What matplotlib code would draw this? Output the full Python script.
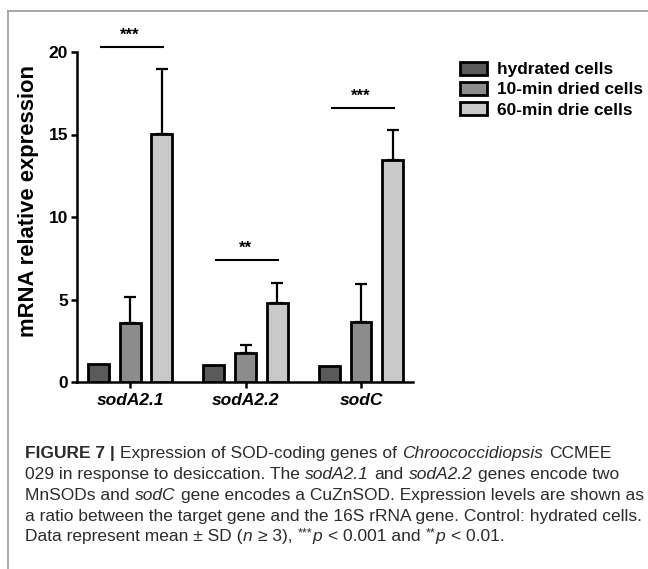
import matplotlib
matplotlib.use("Agg")
import matplotlib.pyplot as plt
from matplotlib import font_manager as fm
from matplotlib.patches import Patch
from matplotlib.lines import Line2D
import numpy as np

# ---------------- data ----------------
genes = ["sodA2.1", "sodA2.2", "sodC"]
series_labels = ["hydrated cells", "10-min dried cells", "60-min drie cells"]
hydrated = [1.07, 1.05, 1.0]
dried10 = [3.6, 1.75, 3.62]
dried60 = [15.05, 4.78, 13.48]
err_hydrated = [0.0, 0.0, 0.0]
err_dried10 = [1.53, 0.5, 2.33]
err_dried60 = [3.93, 1.2, 1.8]
sig_labels = ["***", "**", "***"]
sig_heights = [20.3, 7.4, 16.6]
yticks = [0, 5, 10, 15, 20]

# caption: (text, style) segments per line; r=regular, b=bold, i=italic, sup=superscript
caption_lines = [
    [("FIGURE 7 |", "b"), (" Expression of SOD-coding genes of", "r"),
     (" Chroococcidiopsis", "i"), (" CCMEE", "r")],
    [("029 in response to desiccation. The", "r"), (" sodA2.1", "i"), (" and", "r"),
     (" sodA2.2", "i"), (" genes encode two", "r")],
    [("MnSODs and", "r"), (" sodC", "i"),
     (" gene encodes a CuZnSOD. Expression levels are shown as", "r")],
    [("a ratio between the target gene and the 16S rRNA gene. Control: hydrated cells.", "r")],
    [("Data represent mean ± SD (", "r"), ("n", "i"), (" ≥ 3),", "r"), (" ***", "sup"),
     ("p", "i"), (" < 0.001 and", "r"), (" **", "sup"), ("p", "i"), (" < 0.01.", "r")],
]

# ---------------- fonts ----------------
names = {f.name for f in fm.fontManager.ttflist}
FONT = "Liberation Sans" if "Liberation Sans" in names else "DejaVu Sans"
plt.rcParams["font.family"] = [FONT, "DejaVu Sans"]

W, H = 648, 569
fig = plt.figure(figsize=(W / 100, H / 100), dpi=100)
fig.patch.set_facecolor("white")

# frame lines (top and left)
fig.add_artist(Line2D([8 / W, 1.0], [1 - 11 / H, 1 - 11 / H], color="#9a9a9a", lw=1.2,
                      transform=fig.transFigure))
fig.add_artist(Line2D([8 / W, 8 / W], [0, 1 - 11 / H], color="#9a9a9a", lw=1.2,
                      transform=fig.transFigure))

ax = fig.add_axes([77 / W, 1 - 382 / H, (413 - 77) / W, 330 / H])
ax.set_facecolor("none")

x = np.arange(len(genes))
offs = [-0.275, 0.0, 0.275]
width = 0.18
colors = ["#5a5a5a", "#8c8c8c", "#c9c9c9"]
vals = [hydrated, dried10, dried60]
errs = [err_hydrated, err_dried10, err_dried60]

for i in range(3):
    ax.bar(x + offs[i], vals[i], width, color=colors[i], edgecolor="black",
           linewidth=2.0, zorder=3, label=series_labels[i])
    e = np.array(errs[i])
    mask = e > 0
    if mask.any():
        ax.errorbar((x + offs[i])[mask], np.array(vals[i])[mask],
                    yerr=[np.zeros(mask.sum()), e[mask]], fmt="none",
                    ecolor="black", elinewidth=1.6, capsize=4.5, capthick=1.6,
                    zorder=2)

# significance lines and stars
for gi in range(3):
    ax.plot([x[gi] - 0.255, x[gi] + 0.285], [sig_heights[gi]] * 2, color="black",
            lw=1.5, clip_on=False, zorder=4)
    ax.annotate(sig_labels[gi], xy=(x[gi], sig_heights[gi]), xytext=(0, 5),
                textcoords="offset points", ha="center", va="baseline",
                fontsize=12, fontweight="bold", annotation_clip=False)

ax.set_xlim(-0.46, 2.45)
ax.set_ylim(0, 20)
ax.set_yticks(yticks)
ax.set_yticklabels([str(t) for t in yticks], fontsize=12.5, fontweight="bold")
ax.set_xticks(x)
ax.set_xticklabels(genes, fontsize=12.5, fontweight="bold", fontstyle="italic")
for s in ["top", "right"]:
    ax.spines[s].set_visible(False)
for s in ["left", "bottom"]:
    ax.spines[s].set_linewidth(1.8)
ax.tick_params(axis="y", length=4.5, width=1.8, pad=2)
ax.tick_params(axis="x", length=4, width=1.8, pad=4)
ax.set_ylabel("mRNA relative expression", fontsize=15.8, fontweight="bold")
ax.yaxis.set_label_coords((39 - 77) / 336, (382 - 201) / 330)

handles = [Patch(facecolor=c, edgecolor="black", linewidth=2.0) for c in colors]
fig.legend(handles, series_labels, loc="upper left",
           bbox_to_anchor=(460 / W, 1 - 62 / H), frameon=False,
           prop={"family": FONT, "weight": "bold", "size": 12.4},
           handlelength=1.55, handleheight=0.75, handletextpad=0.6,
           labelspacing=0.28, borderpad=0, borderaxespad=0)

# caption, drawn as chained text segments
ax0 = fig.add_axes([0, 0, 1, 1])
ax0.axis("off")
CAP_FS = 12.5
CAP_COLOR = "#2b2b2b"
space_px = 0.278 * CAP_FS * 100 / 72
baselines = [458, 479, 500, 520.5, 541]
for segs, yb in zip(caption_lines, baselines):
    prev = None
    for txt, style in segs:
        kw = dict(fontsize=CAP_FS, color=CAP_COLOR, family=FONT, va="baseline",
                  ha="left", annotation_clip=False)
        dy = 0
        if style == "b":
            kw["fontweight"] = "bold"
        elif style == "i":
            kw["fontstyle"] = "italic"
        elif style == "sup":
            kw["fontsize"] = CAP_FS * 0.72
            dy = 5
        lead = 0.0
        if txt.startswith(" "):
            lead = space_px
            txt = txt.lstrip(" ")
        ybase = H - yb + dy
        if prev is None:
            prev = ax0.annotate(txt, xy=(25 + lead, ybase), xycoords="figure pixels", **kw)
        else:
            prev = ax0.annotate(txt, xy=(1, ybase), xycoords=(prev, "figure pixels"),
                                xytext=(lead + 0.5, 0), textcoords="offset pixels", **kw)

fig.savefig("out.png", dpi=100)
